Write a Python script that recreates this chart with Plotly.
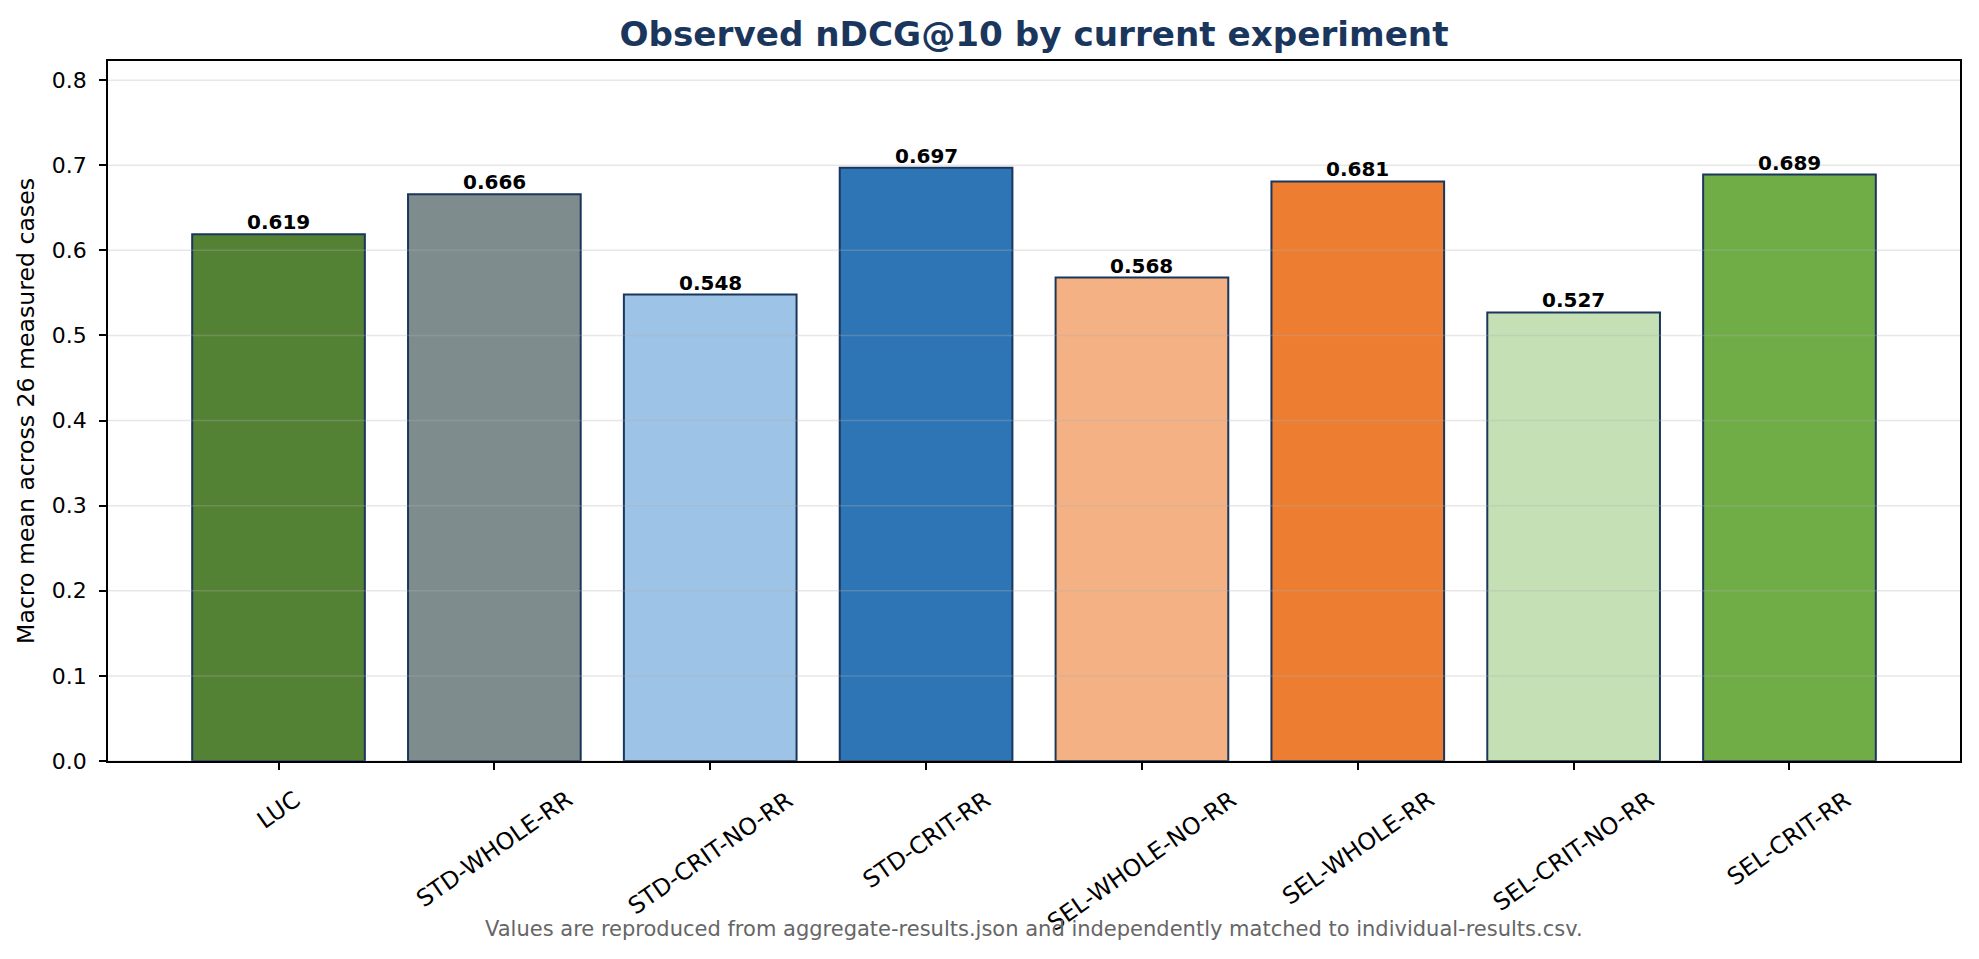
import plotly.graph_objects as go

categories = ["LUC", "STD-WHOLE-RR", "STD-CRIT-NO-RR", "STD-CRIT-RR",
              "SEL-WHOLE-NO-RR", "SEL-WHOLE-RR", "SEL-CRIT-NO-RR", "SEL-CRIT-RR"]
values = [0.619, 0.666, 0.548, 0.697, 0.568, 0.681, 0.527, 0.689]
colors = ["#548235", "#7f8c8d", "#9dc3e6", "#2e75b6",
          "#f4b183", "#ed7d31", "#c5e0b4", "#70ad47"]
y_ticks = [0.0, 0.1, 0.2, 0.3, 0.4, 0.5, 0.6, 0.7, 0.8]

FONT = "DejaVu Sans"
NAVY = "#1b365d"

xs = list(range(len(categories)))
fig = go.Figure()
fig.add_trace(go.Bar(
    x=xs, y=values, width=0.8,
    marker=dict(color=colors, line=dict(color=NAVY, width=2)),
    showlegend=False,
))

# value labels above bars
for i, v in enumerate(values):
    fig.add_annotation(x=i, xref="x", y=v, yref="y", text=f"<b>{v:.3f}</b>",
                       showarrow=False, xanchor="center", yanchor="middle", yshift=12,
                       font=dict(family=FONT, size=20, color="black"))

# grid lines drawn above bars (semi-transparent)
for t in y_ticks:
    fig.add_shape(type="line", xref="paper", x0=0, x1=1, yref="y", y0=t, y1=t,
                  line=dict(color="rgba(176,176,176,0.3)", width=1.5), layer="above")

# rotated, centred category labels
for i, c in enumerate(categories):
    fig.add_annotation(x=i, xref="x", y=-0.031, yref="paper", text=c,
                       textangle=-35, showarrow=False, xanchor="center", yanchor="top",
                       font=dict(family=FONT, size=23.5, color="black"))

fig.add_annotation(x=0.5, xref="paper", y=-0.24, yref="paper",
                   text="Values are reproduced from aggregate-results.json and independently matched to individual-results.csv.",
                   showarrow=False, xanchor="center", yanchor="middle",
                   font=dict(family=FONT, size=21, color="#666666"))

fig.update_layout(
    width=1979, height=959,
    margin=dict(l=108, r=19, t=61, b=198),
    paper_bgcolor="white", plot_bgcolor="white",
    font=dict(family=FONT, color="black"),
    title=dict(text="<b>Observed nDCG@10 by current experiment</b>",
               x=(108 + 1960) / 2 / 1979, xanchor="center", y=1 - 34 / 959, yanchor="middle",
               font=dict(family=FONT, size=34.2, color=NAVY)),
    bargap=0.2,
)
fig.update_xaxes(range=[-0.79, 7.79], tickvals=xs, ticktext=[""] * len(xs),
                 ticks="outside", ticklen=7, tickwidth=1.5, tickcolor="black",
                 showline=True, linecolor="black", linewidth=1.8, mirror=True,
                 showgrid=False, zeroline=False)
fig.update_yaxes(range=[0, 0.8225], tickvals=y_ticks, ticktext=[f"{t:.1f}" for t in y_ticks],
                 ticks="outside", ticklen=7, tickwidth=1.5, tickcolor="black",
                 ticklabelstandoff=8,
                 tickfont=dict(family=FONT, size=22, color="black"),
                 showline=True, linecolor="black", linewidth=1.8, mirror=True,
                 showgrid=False, zeroline=False,
                 title=dict(text="Macro mean across 26 measured cases", standoff=10,
                            font=dict(family=FONT, size=23.6, color="black")))

fig.write_html("out.html")
